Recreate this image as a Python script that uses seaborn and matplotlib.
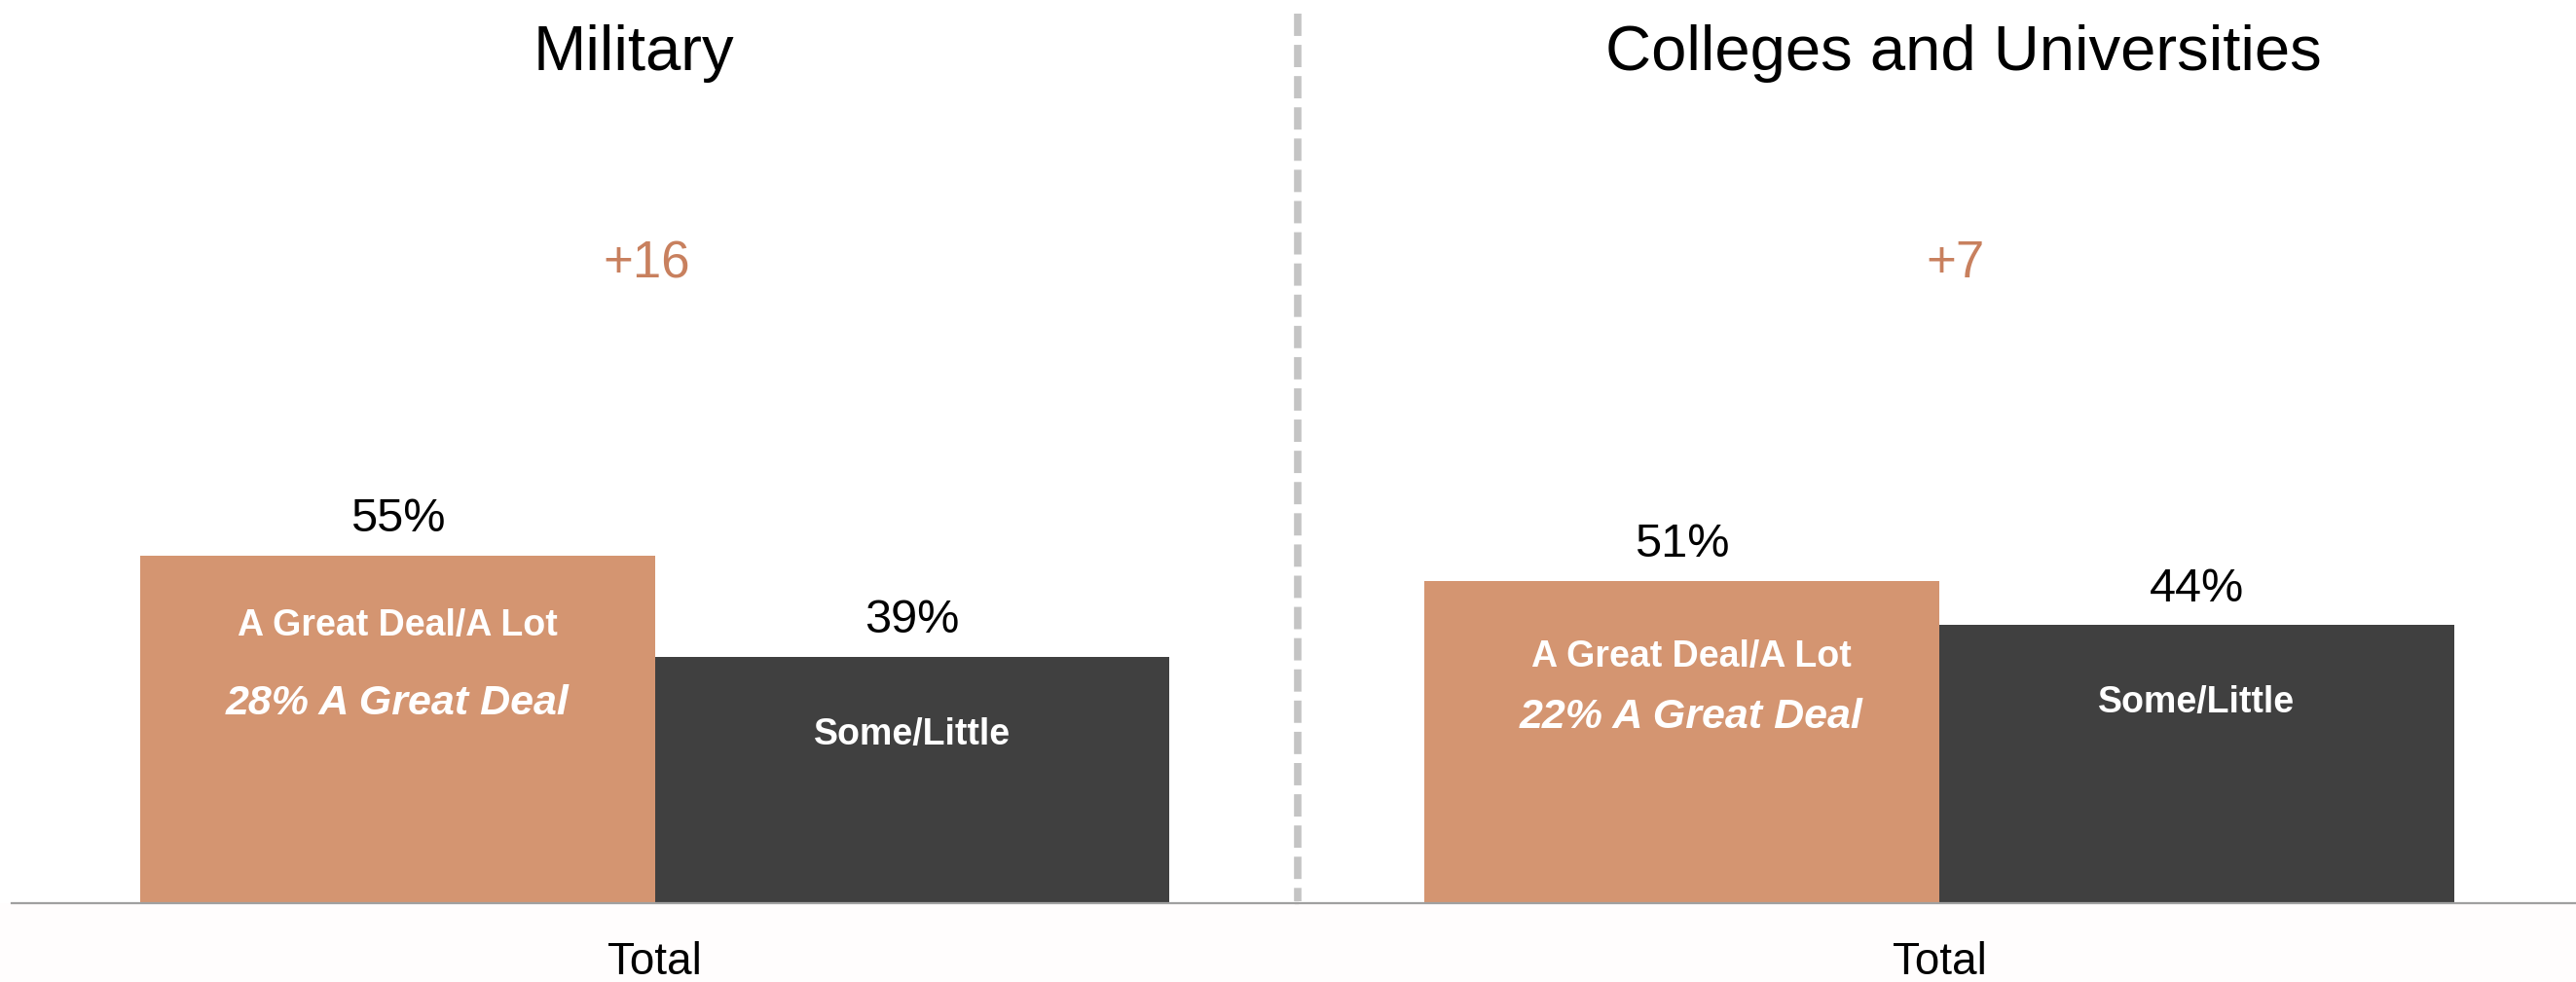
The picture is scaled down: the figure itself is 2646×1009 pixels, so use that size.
import matplotlib
matplotlib.use("Agg")
import matplotlib.pyplot as plt
import seaborn as sns
import pandas as pd
from matplotlib.lines import Line2D
from matplotlib.patches import Rectangle

# ---------------- data ----------------
panels = ["Military", "Colleges and Universities"]
group_labels = ["Total"]
series = ["A Great Deal/A Lot", "Some/Little"]
military_values = [55, 39]
colleges_values = [51, 44]
great_deal_values = [28, 22]
gap_labels = ["+16", "+7"]

# ---------------- style ----------------
BG = "#FFFFFF"
BG_LOW = "#FFFDFD"
ORANGE = "#D49571"
DARK = "#404040"
GAP_COLOR = "#C8805E"
BASE_COLOR = "#A0A0A0"
DIV_COLOR = "#C4C4C4"

sns.set_theme(style="white")
plt.rcParams['font.family'] = ['Liberation Sans', 'DejaVu Sans']

W, H = 2646, 1009
fig = plt.figure(figsize=(W / 100, H / 100), dpi=100, facecolor=BG)


def fx(px):
    return px / W


def fy(py):
    return 1 - py / H


BASE_Y = 928
PX_PER_PCT = 6.5
axes_spans = [(12, 1333), (1331, 2653)]
title_x = [651, 2017]
gap_x = [664, 2008]
inner_offsets = [(83, 163, 0), (89, 152, 10)]  # px below bar top for line1, line2; x shift

all_values = [military_values, colleges_values]

# faint tint below the baseline
fig.add_artist(Rectangle((0, 0), 1, fy(BASE_Y), transform=fig.transFigure,
                         facecolor=BG_LOW, edgecolor="none", zorder=0))

for i, (x0, x1) in enumerate(axes_spans):
    ax = fig.add_axes([fx(x0), fy(BASE_Y), fx(x1 - x0), BASE_Y / H])
    ax.set_facecolor("none")
    df = pd.DataFrame({
        "group": group_labels * len(series),
        "series": series,
        "value": all_values[i],
    })
    sns.barplot(data=df, x="group", y="value", hue="series", hue_order=series,
                palette=[ORANGE, DARK], width=0.8, saturation=1, legend=False,
                ax=ax, errorbar=None, linewidth=0)
    ax.set_xlim(-0.5, 0.5)
    ax.set_ylim(0, BASE_Y / PX_PER_PCT)
    ax.set_yticks([])
    ax.set_xlabel("")
    ax.set_ylabel("")
    for s in ["left", "right", "top"]:
        ax.spines[s].set_visible(False)
    ax.spines["bottom"].set_color(BASE_COLOR)
    ax.spines["bottom"].set_linewidth(1.6)
    ax.spines["bottom"].set_zorder(5)
    ax.tick_params(axis="x", length=0, pad=28, labelsize=33, labelcolor="black")

    # value labels above bars
    for c_idx, cont in enumerate(ax.containers):
        bar = cont[0]
        xc = bar.get_x() + bar.get_width() / 2
        h = bar.get_height()
        ax.annotate(f"{all_values[i][c_idx]}%", xy=(xc, h), xytext=(0, 24),
                    textcoords="offset pixels", ha="center", va="baseline",
                    fontsize=35, color="black")
        if c_idx == 0:
            o1, o2, dx = inner_offsets[i]
            ax.annotate(series[0], xy=(xc, h), xytext=(dx, -o1),
                        textcoords="offset pixels", ha="center", va="baseline",
                        fontsize=27, fontweight="bold", color="white")
            ax.annotate(f"{great_deal_values[i]}% A Great Deal", xy=(xc, h),
                        xytext=(dx, -o2), textcoords="offset pixels",
                        ha="center", va="baseline", fontsize=31,
                        fontweight="bold", fontstyle="italic", color="white")
        else:
            ax.annotate(series[1], xy=(xc, h), xytext=(0, -90),
                        textcoords="offset pixels", ha="center", va="baseline",
                        fontsize=27, fontweight="bold", color="white")

    fig.text(fx(title_x[i]), fy(72), panels[i], ha="center", va="baseline",
             fontsize=47, color="black")
    fig.text(fx(gap_x[i]), fy(285), gap_labels[i], ha="center", va="baseline",
             fontsize=38, color=GAP_COLOR)

# dashed divider
fig.add_artist(Line2D([fx(1333), fx(1333)], [fy(14), fy(BASE_Y - 2)],
                      transform=fig.transFigure, color=DIV_COLOR, lw=5.5,
                      linestyle=(0, (3.0, 1.2)), zorder=1))

fig.savefig("out.png", dpi=100, facecolor=BG)
